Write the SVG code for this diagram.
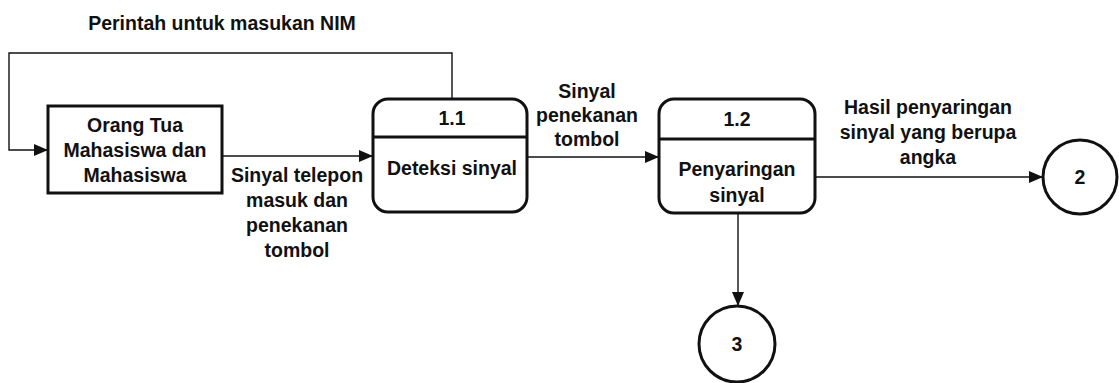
<svg xmlns="http://www.w3.org/2000/svg" width="1119" height="383" viewBox="0 0 1119 383">
  <style>
    text { font-family: "Liberation Sans", Arial, sans-serif; font-weight: bold; font-size: 19.5px; fill: #111; text-anchor: middle; }
    .node { fill: #fff; stroke: #111; stroke-width: 3; }
    .flow { fill: none; stroke: #111; stroke-width: 1.4; }
  </style>
  <defs>
    <marker id="arrow" markerWidth="14" markerHeight="12" refX="13" refY="6" orient="auto" markerUnits="userSpaceOnUse">
      <path d="M0,0 L14,6 L0,12 Z" fill="#111"/>
    </marker>
  </defs>

  <rect width="1119" height="383" fill="#fff"/>

  <!-- data flows -->
  <g id="connectors">
    <polyline class="flow" points="452,99 452,53 9,53 9,150 47,150" marker-end="url(#arrow)"/>
    <line class="flow" x1="222" y1="156" x2="372" y2="156" marker-end="url(#arrow)"/>
    <line class="flow" x1="527" y1="157" x2="658" y2="157" marker-end="url(#arrow)"/>
    <line class="flow" x1="815" y1="177" x2="1042" y2="177" marker-end="url(#arrow)"/>
    <line class="flow" x1="738" y1="213" x2="738" y2="305" marker-end="url(#arrow)"/>
  </g>

  <!-- flow labels -->
  <g id="flow-labels">
    <text x="222" y="30">Perintah untuk masukan NIM</text>
    <text x="297" y="182">Sinyal telepon</text>
    <text x="297" y="207">masuk dan</text>
    <text x="297" y="232">penekanan</text>
    <text x="297" y="257">tombol</text>
    <text x="587" y="98">Sinyal</text>
    <text x="587" y="122">penekanan</text>
    <text x="587" y="146">tombol</text>
    <text x="928" y="114">Hasil penyaringan</text>
    <text x="928" y="139">sinyal yang berupa</text>
    <text x="928" y="164">angka</text>
  </g>

  <!-- external entity -->
  <g id="entity-orang-tua">
    <rect class="node" x="48" y="106" width="174" height="87"/>
    <text x="135" y="132">Orang Tua</text>
    <text x="135" y="157">Mahasiswa dan</text>
    <text x="135" y="182">Mahasiswa</text>
  </g>

  <!-- process 1.1 -->
  <g id="process-1-1">
    <rect class="node" x="373" y="99" width="154" height="113" rx="15"/>
    <line class="node" x1="373" y1="137" x2="527" y2="137"/>
    <text x="452" y="125">1.1</text>
    <text x="452" y="175">Deteksi sinyal</text>
  </g>

  <!-- process 1.2 -->
  <g id="process-1-2">
    <rect class="node" x="659" y="99" width="156" height="114" rx="15"/>
    <line class="node" x1="659" y1="139" x2="815" y2="139"/>
    <text x="737" y="126">1.2</text>
    <text x="737" y="176">Penyaringan</text>
    <text x="737" y="202">sinyal</text>
  </g>

  <!-- off-page connectors -->
  <g id="connector-2">
    <circle class="node" cx="1080" cy="177" r="37"/>
    <text x="1080" y="184">2</text>
  </g>
  <g id="connector-3">
    <circle class="node" cx="737" cy="344" r="38"/>
    <text x="737" y="351">3</text>
  </g>
</svg>
